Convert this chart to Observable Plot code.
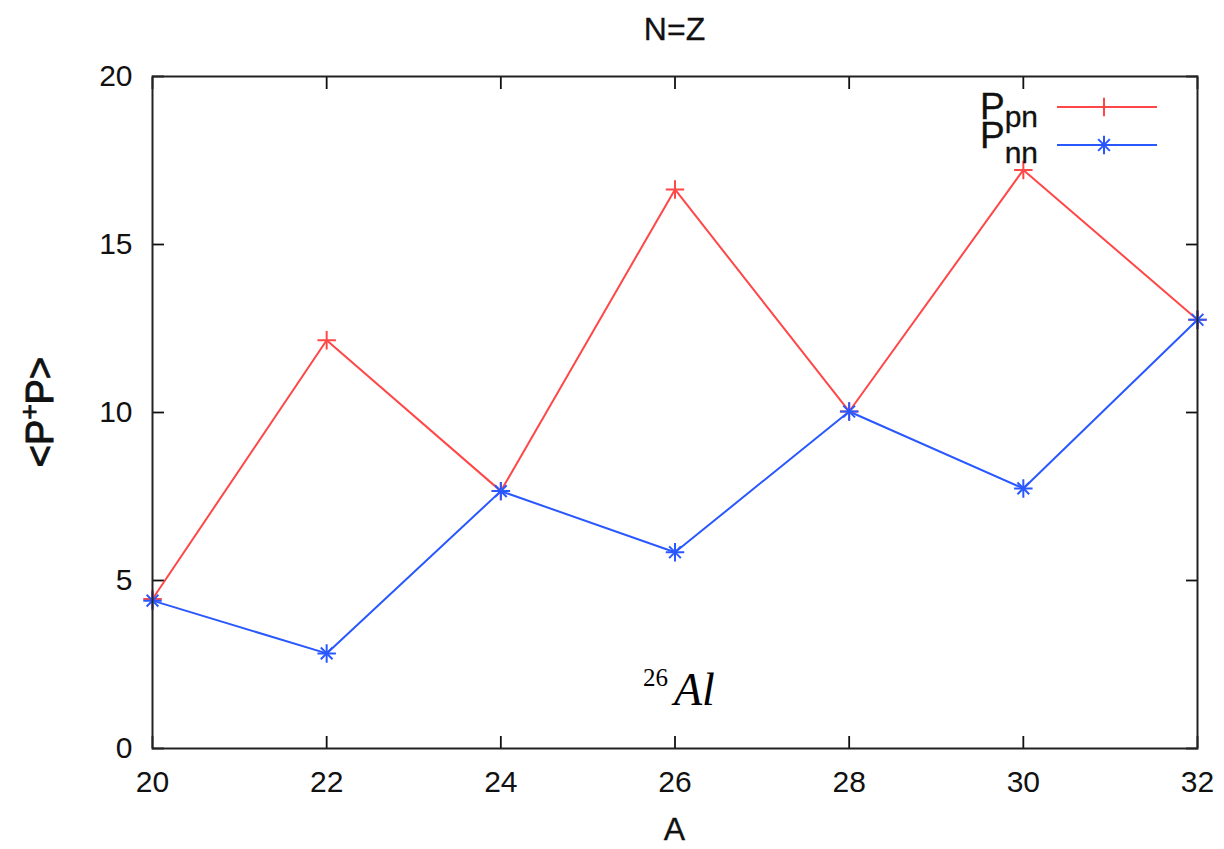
<!DOCTYPE html>
<html>
<head>
<meta charset="utf-8">
<script src="https://cdn.jsdelivr.net/npm/d3@7"></script>
<script src="https://cdn.jsdelivr.net/npm/@observablehq/plot@0.6"></script>
<style>
  html, body { margin: 0; padding: 0; background: #fff; }
  #chart { position: relative; width: 1224px; height: 849px; }
  #chart svg { font-family: "Liberation Sans", Arial, Helvetica, sans-serif; }
</style>
</head>
<body>
<div id="chart"></div>
<script>
// Mass numbers of the N=Z nuclei
const massA = [20, 22, 24, 26, 28, 30, 32];
// <P+P> expectation values for proton-neutron and neutron-neutron pairs
const pPn = [4.45, 12.15, 7.66, 16.64, 10.03, 17.22, 12.76];
const pNn = [4.4, 2.83, 7.66, 5.84, 10.03, 7.74, 12.76];
const xTicks = [20, 22, 24, 26, 28, 30, 32];
const yTicks = [0, 5, 10, 15, 20];

const redColor = "#ff4747";
const blueColor = "#2a58ff";

const rows = massA.flatMap((a, i) => [
  {A: a, v: pPn[i], s: "pn"},
  {A: a, v: pNn[i], s: "nn"}
]);
const pn = rows.filter(d => d.s === "pn");
const nn = rows.filter(d => d.s === "nn");

const W = 1224, H = 849;
const mL = 152, mR = 27, mT = 76, mB = 101;
const FS = 30;

const chart = Plot.plot({
  width: W,
  height: H,
  marginLeft: mL,
  marginRight: mR,
  marginTop: mT,
  marginBottom: mB,
  style: {fontSize: FS + "px", fontFamily: "'Liberation Sans', Arial, sans-serif", color: "#111", background: "#fff"},
  x: {domain: [20, 32]},
  y: {domain: [0, 20]},
  marks: [
    // inward ticks on all four sides
    Plot.axisX(xTicks, {anchor: "bottom", tickSize: -12, text: null, strokeWidth: 1.8, label: null}),
    Plot.axisX(xTicks, {anchor: "top", tickSize: -12, text: null, strokeWidth: 1.8, label: null}),
    Plot.axisY(yTicks, {anchor: "left", tickSize: -12, text: null, strokeWidth: 1.8, label: null}),
    Plot.axisY(yTicks, {anchor: "right", tickSize: -12, text: null, strokeWidth: 1.8, label: null}),
    // tick labels
    Plot.axisX(xTicks, {anchor: "bottom", tickSize: 0, tickPadding: 22, fontSize: FS, label: null, stroke: "#111", strokeWidth: 0.3}),
    Plot.axisY(yTicks, {anchor: "left", tickSize: 0, tickPadding: 20, fontSize: FS, label: null, stroke: "#111", strokeWidth: 0.3}),
    // series lines
    Plot.line(pn, {x: "A", y: "v", stroke: redColor, strokeWidth: 2}),
    Plot.line(nn, {x: "A", y: "v", stroke: blueColor, strokeWidth: 2}),
    // markers: plus for pn, star (plus + times) for nn
    Plot.dot(pn, {x: "A", y: "v", symbol: "plus", r: 6, stroke: redColor, strokeWidth: 2}),
    Plot.dot(nn, {x: "A", y: "v", symbol: "plus", r: 6, stroke: blueColor, strokeWidth: 2}),
    Plot.dot(nn, {x: "A", y: "v", symbol: "times", r: 5.4, stroke: blueColor, strokeWidth: 2}),
    Plot.frame({stroke: "#222", strokeWidth: 2})
  ]
});

const root = document.getElementById("chart");
root.appendChild(chart);

const svg = d3.select(chart);
const font = "'Liberation Sans', Arial, sans-serif";

function label(sel, size = FS) {
  return sel.attr("font-family", font).attr("font-size", size).attr("fill", "#111")
    .attr("stroke", "#111").attr("stroke-width", 0.3);
}

// title and axis labels
label(svg.append("text"), 32)
  .attr("x", mL + (W - mL - mR) / 2).attr("y", 40)
  .attr("text-anchor", "middle")
  .text("N=Z");

label(svg.append("text"), 32)
  .attr("x", mL + (W - mL - mR) / 2).attr("y", 840)
  .attr("text-anchor", "middle")
  .text("A");

const yl = label(svg.append("text"), 38)
  .attr("transform", `translate(53, ${mT + (H - mT - mB) / 2}) rotate(-90)`)
  .attr("text-anchor", "middle").attr("stroke-width", 1);
yl.append("tspan").text("<P");
yl.append("tspan").attr("font-size", 26).attr("dy", -15).text("+");
yl.append("tspan").attr("dy", 15).text("P>");

// isotope annotation
const ann = svg.append("text")
  .attr("x", 643).attr("y", 705)
  .attr("text-anchor", "start").attr("font-family", "'Liberation Serif', 'DejaVu Serif', serif").attr("fill", "#000");
ann.append("tspan").attr("font-size", 25).attr("dy", -19).text("26");
ann.append("tspan").attr("font-size", 46).attr("font-style", "italic").attr("dx", 6).attr("dy", 19).text("Al");

// legend
const lg = svg.append("g");
const entries = [
  {main: "P", sub: "pn", base: 119, shift: 8, y: 107, color: redColor, star: false},
  {main: "P", sub: "nn", base: 148, shift: 15, y: 145, color: blueColor, star: true}
];
entries.forEach(e => {
  const t = label(lg.append("text"), 37).attr("x", 980).attr("y", e.base).attr("text-anchor", "start");
  t.append("tspan").text(e.main);
  t.append("tspan").attr("font-size", 30).attr("dy", e.shift).text(e.sub);
  lg.append("line").attr("x1", 1057).attr("x2", 1157).attr("y1", e.y).attr("y2", e.y)
    .attr("stroke", e.color).attr("stroke-width", 2);
  const plus = d3.symbol(d3.symbolPlus, Math.PI * 36)();
  lg.append("path").attr("d", plus).attr("transform", `translate(1104,${e.y})`)
    .attr("fill", "none").attr("stroke", e.color).attr("stroke-width", 2);
  if (e.star) {
    const times = d3.symbol(d3.symbolTimes, Math.PI * 5.4 * 5.4)();
    lg.append("path").attr("d", times).attr("transform", `translate(1104,${e.y})`)
      .attr("fill", "none").attr("stroke", e.color).attr("stroke-width", 2);
  }
});
</script>
</body>
</html>
